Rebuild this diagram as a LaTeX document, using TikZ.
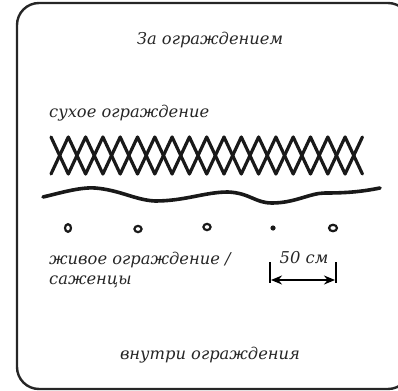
\documentclass[tikz,border=0pt]{standalone}
\usepackage{fontspec}
\setmainfont{DejaVu Serif}
\usetikzlibrary{arrows.meta}
\tikzset{
  lbl/.style={font=\itshape\fontsize{16.3}{19}\selectfont, inner sep=0pt, text=black!85},
  frame/.style={line width=2.4pt, draw=black!85, rounded corners=22pt},
  hand/.style={line width=3.2pt, line cap=round, line join=round, draw=black!90},
  seed/.style={line width=2.2pt, draw=black!90},
}
\begin{document}
\begin{tikzpicture}[x=1pt,y=-1pt]
\useasboundingbox (0,0) rectangle (398,390);
\clip (0,0) rectangle (398,390);
\draw[frame] (17,3) rectangle (410,389);
% texts
\node[lbl] (top) at (210,40) {За ограждением};
\node[lbl, anchor=west] (dry) at (49,113) {сухое ограждение};
\node[lbl, anchor=west] (live) at (49,260) {живое ограждение /};
\node[lbl, anchor=west] (seedl) at (49,282) {саженцы};
\node[lbl] (dist) at (304,258) {50 см};
\node[lbl] (inside) at (210,355) {внутри ограждения};
% criss-cross dry fence
\def\xa{51}\def\pp{17.3}
\draw[hand] (\xa,137) \foreach \k in {1,...,18}{ -- ({\xa+\k*\pp},{ifthenelse(mod(\k,2)==1,174,137)}) };
\draw[hand] (\xa,174) \foreach \k in {1,...,18}{ -- ({\xa+\k*\pp},{ifthenelse(mod(\k,2)==1,137,174)}) };
% wavy line
\draw[hand, line width=3.6pt] (43,197) .. controls (60,193) and (80,187) .. (95,188)
  .. controls (120,190) and (135,200) .. (155,201)
  .. controls (185,201) and (205,192) .. (228,192)
  .. controls (250,193) and (255,203) .. (272,203)
  .. controls (295,203) and (310,193) .. (325,193)
  .. controls (345,193) and (360,192) .. (380,188);
% seedlings
\draw[seed] (68,228) ellipse (3 and 3.8);
\draw[seed] (138,229) ellipse (3.6 and 3.1);
\draw[seed] (207,227) ellipse (3.6 and 3.1);
\fill[black!90] (273,228) circle (2.6);
\draw[seed] (333,228) ellipse (4 and 3.2);
% dimension
\coordinate (l1) at (270,262); \coordinate (l2) at (270,283);
\coordinate (r1) at (336,262); \coordinate (r2) at (336,283);
\draw[line width=2pt] (l1) -- (l2);
\draw[line width=2pt] (r1) -- (r2);
\draw[line width=1.8pt, {Stealth[length=11pt,width=9pt]}-{Stealth[length=11pt,width=9pt]}] (271,280) -- (335,280);
\end{tikzpicture}
\end{document}
